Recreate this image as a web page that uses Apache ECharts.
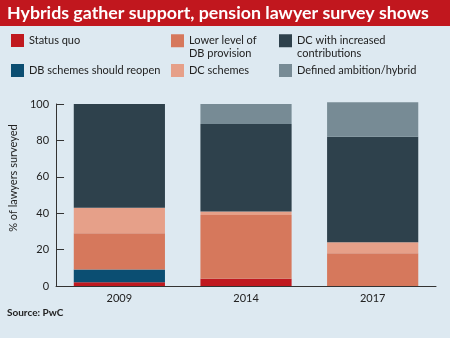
<!DOCTYPE html>
<html>
<head>
<meta charset="utf-8">
<script src="https://cdn.jsdelivr.net/npm/echarts@6/dist/echarts.min.js"></script>
<style>
  html, body { margin: 0; padding: 0; background: #dde9f1; }
  #chart { width: 450px; height: 338px; }
</style>
</head>
<body>
<div id="chart"></div>
<script>
// Survey years on the x axis
const years = ['2009', '2014', '2017'];

// Share of lawyers (%) per answer, stacked bottom to top
const statusQuo = [2, 4, 0];
const dbReopen = [7, 0, 0];
const lowerDb = [20, 35, 18];
const dcSchemes = [14, 2, 6];
const dcIncreased = [57, 48, 58];
const definedAmbition = [0, 11, 19];

const yTicks = [0, 20, 40, 60, 80, 100];

const seriesDefs = [
  { name: 'Status quo', data: statusQuo, color: '#c0191f' },
  { name: 'DB schemes should reopen', data: dbReopen, color: '#0b4e72' },
  { name: 'Lower level of\nDB provision', data: lowerDb, color: '#d6785c' },
  { name: 'DC schemes', data: dcSchemes, color: '#e6a089' },
  { name: 'DC with increased\ncontributions', data: dcIncreased, color: '#2e414c' },
  { name: 'Defined ambition/hybrid', data: definedAmbition, color: '#778b95' }
];

// legend entry positions: [left, top]
const legendPos = [
  [11, 34], [11, 64], [171, 22], [171, 64], [279, 22], [279, 64]
];

const font = 'Lato, Roboto, sans-serif';

const chart = echarts.init(document.getElementById('chart'));

chart.setOption({
  backgroundColor: '#dde9f1',
  animation: false,
  textStyle: { fontFamily: font },
  graphic: [
    { type: 'rect', left: 0, top: 0, shape: { width: 450, height: 26 }, style: { fill: '#c1171e' }, z: 0 }
  ],
  title: [
    {
      text: 'Hybrids gather support, pension lawyer survey shows',
      left: 7, top: 1, padding: 0,
      textStyle: { color: '#ffffff', fontSize: 17.8, fontWeight: 'bold', fontFamily: font, lineHeight: 24 }
    },
    {
      text: 'Source: PwC',
      left: 7, top: 308, padding: 0,
      textStyle: { color: '#222', fontSize: 10, fontWeight: 'bold', fontFamily: font }
    }
  ],
  legend: seriesDefs.map((s, i) => {
    const twoLine = s.name.indexOf('\n') >= 0;
    return {
      data: [s.name],
      left: legendPos[i][0],
      top: legendPos[i][1],
      padding: 0,
      itemWidth: 13,
      itemHeight: 13,
      itemGap: 5,
      selectedMode: false,
      icon: 'rect',
      // two-line entries: blank leading line keeps the first line level with the swatch
      formatter: name => (twoLine ? ' \n' + name : name),
      textStyle: {
        color: '#222',
        fontSize: 11,
        fontFamily: font,
        lineHeight: 12.5
      }
    };
  }),
  grid: { left: 47, right: 14, top: 104, bottom: 52, containLabel: false },
  xAxis: {
    type: 'category',
    data: years,
    axisLine: { lineStyle: { color: '#333', width: 1 } },
    axisTick: { inside: true, length: 5, lineStyle: { color: '#333' } },
    axisLabel: { color: '#222', fontSize: 11, margin: 7, fontFamily: font }
  },
  yAxis: {
    type: 'value',
    min: 0,
    max: 100,
    interval: 20,
    name: '% of lawyers surveyed',
    nameLocation: 'middle',
    nameGap: 34,
    nameTextStyle: { color: '#222', fontSize: 11, fontFamily: font, padding: [0, 0, 0, 34] },
    axisLine: { show: true, lineStyle: { color: '#333', width: 1 } },
    axisTick: { show: true, inside: true, length: 8, lineStyle: { color: '#333' } },
    splitLine: { show: false },
    axisLabel: {
      color: '#222', fontSize: 11, margin: 7, fontFamily: font,
      formatter: v => (yTicks.indexOf(v) >= 0 ? String(v) : '')
    }
  },
  series: seriesDefs.map(s => ({
    name: s.name,
    type: 'bar',
    stack: 'total',
    data: s.data,
    barWidth: '72%',
    clip: false,
    itemStyle: { color: s.color },
    emphasis: { disabled: true }
  }))
});
</script>
</body>
</html>
